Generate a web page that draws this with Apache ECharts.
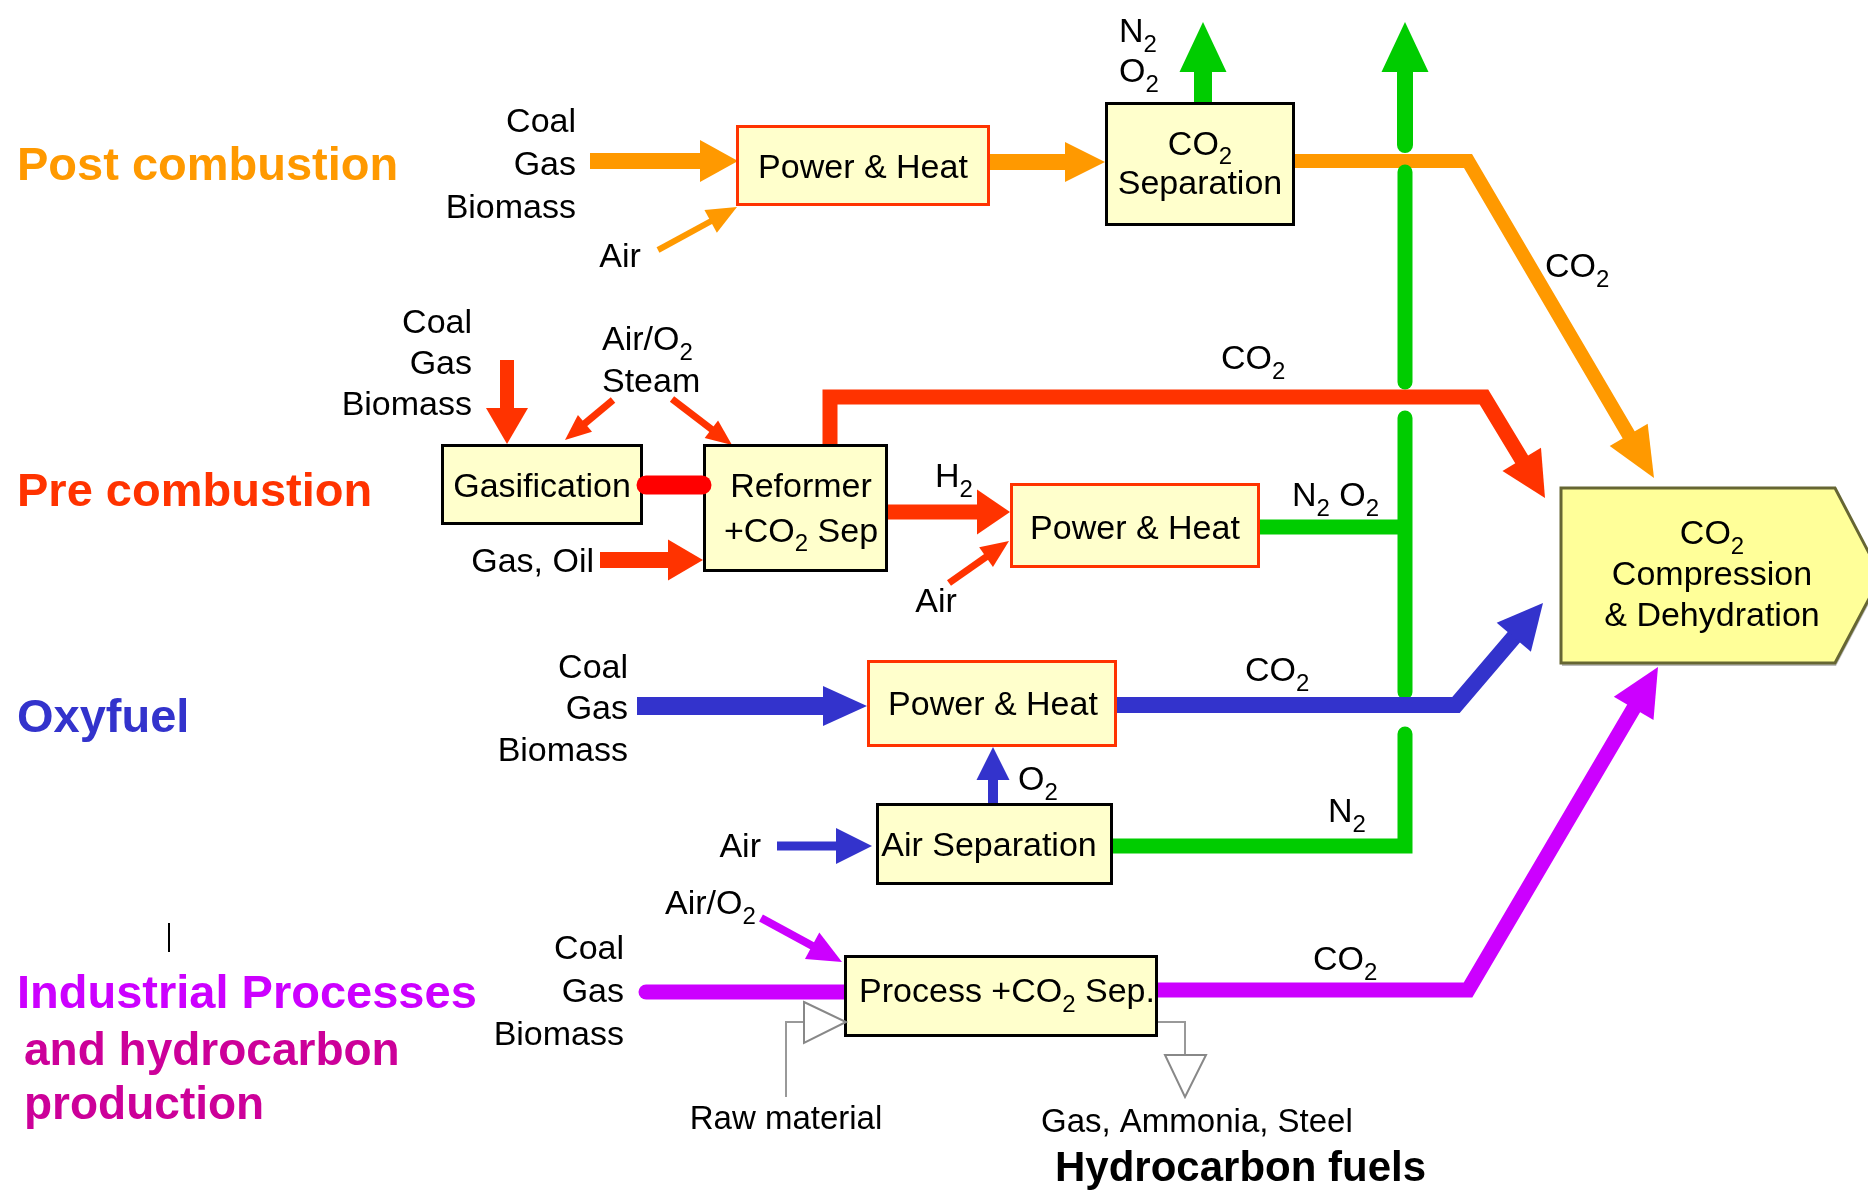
<!DOCTYPE html>
<html><head><meta charset="utf-8">
<style>html,body{margin:0;padding:0;background:#fff;}#main{width:1868px;height:1191px;}</style>
<script src="https://cdn.jsdelivr.net/npm/echarts@6/dist/echarts.min.js"></script>
</head><body><div id="main"></div>
<script>
// ---------- colours ----------
const C = {orange:'#FF9900', red:'#FF3300', pure:'#FF0000', blue:'#3333CC', green:'#00CC00',
  purple:'#CC00FF', pink:'#CC0099', gray:'#999999', black:'#000000'};

// ---------- process units: [x1, y1, x2, y2] in diagram units ----------
const boxRects = [
  [736,125,990,206],    // Power & Heat (post)
  [1105,102,1295,226],  // CO2 Separation
  [441,444,643,525],    // Gasification
  [703,444,888,572],    // Reformer
  [1010,483,1260,568],  // Power & Heat (pre)
  [867,660,1117,747],   // Power & Heat (oxy)
  [876,803,1113,885],   // Air Separation
  [844,955,1158,1037]   // Process + CO2 Sep.
];
const boxEdge = ['red','black','black','black','red','red','black','black'];
const compressionOutline = [[1561,488],[1835,488],[1881,576],[1835,663],[1561,663]];

// ---------- flows: polyline points ----------
const flowPaths = [
  [[590,161],[738,161]],
  [[658,250],[737,207]],
  [[990,162],[1105,162]],
  [[1295,161],[1468,161],[1654,478]],
  [[1203,102],[1203,22]],
  [[507,360],[507,444]],
  [[613,400],[565,440]],
  [[672,399],[732,445]],
  [[600,560],[703,560]],
  [[830,444],[830,397],[1484,397],[1545,498]],
  [[888,512],[1010,512]],
  [[949,583],[1009,541]],
  [[1260,527],[1405,527]],
  [[1113,846],[1405,846],[1405,734]],
  [[1405,692],[1405,418]],
  [[1405,382],[1405,172]],
  [[1405,145],[1405,22]],
  [[637,706],[867,706]],
  [[1117,705],[1456,705],[1543,603]],
  [[993,803],[993,747]],
  [[777,846],[872,846]],
  [[646,992],[844,992]],
  [[1158,990],[1468,990],[1658,667]],
  [[761,918],[842,962]],
  [[169,923],[169,952]],
  [[786,1097],[786,1022],[806,1022]],
  [[1158,1022],[1185,1022],[1185,1055]]
];
// [colour, line width, head length, head width, cap]
const flowStyles = [
  ['orange',16,38,42,'butt'],
  ['orange',6,30,26,'butt'],
  ['orange',16,40,40,'butt'],
  ['orange',14,50,44,'butt'],
  ['green',18,50,47,'butt'],
  ['red',14,36,42,'butt'],
  ['red',7,26,22,'butt'],
  ['red',7,26,22,'butt'],
  ['red',16,35,41,'butt'],
  ['red',15,45,45,'butt'],
  ['red',15,33,45,'butt'],
  ['red',7,28,24,'butt'],
  ['green',15,0,0,'butt'],
  ['green',15,0,0,'round'],
  ['green',15,0,0,'round'],
  ['green',15,0,0,'round'],
  ['green',16,50,47,'round'],
  ['blue',18,44,40,'butt'],
  ['blue',16,45,45,'butt'],
  ['blue',10,33,33,'butt'],
  ['blue',9,36,36,'butt'],
  ['purple',15,0,0,'round'],
  ['purple',15,48,46,'butt'],
  ['purple',8,34,30,'butt'],
  ['black',2,0,0,'butt'],
  ['gray',2,0,0,'butt'],
  ['gray',2,0,0,'butt']
];
// syngas link between Gasification and Reformer
const linkBar = [[646,485],[702,485]];
// open (hollow) arrow heads for material streams
const openHeads = [
  [[804,1002],[846,1022],[804,1043]],
  [[1165,1055],[1206,1055],[1185,1097]]
];

// ---------- texts ----------
const labelTexts = [
  'Post combustion','Pre combustion','Oxyfuel','Industrial Processes','and hydrocarbon','production','Hydrocarbon fuels',
  'Coal\nGas\nBiomass','Air','Power & Heat','CO_2\nSeparation','N_2','O_2','CO_2',
  'Coal\nGas\nBiomass','Air/O_2\nSteam','Gasification','Reformer\n+CO_2 Sep','Gas, Oil','CO_2','H_2','Air','Power & Heat','N_2 O_2',
  'Coal\nGas\nBiomass','Power & Heat','CO_2','O_2','Air','Air Separation','N_2',
  'Air/O_2','Coal\nGas\nBiomass','Process +CO_2 Sep.','CO_2','Raw material','Gas, Ammonia, Steel',
  'CO_2\nCompression\n& Dehydration'
];
const labelAnchors = [
  [17,164],[17,490],[17,716],[17,992],[24,1049],[24,1103],[1055,1166],
  [576,163],[620,255],[863,166],[1200,162],[1119,30],[1119,70],[1545,265],
  [472,362],[602,359],[542,485],[801,507],[594,560],[1221,357],[935,475],[936,600],[1135,527],[1292,494],
  [628,707],[993,703],[1245,669],[1018,778],[761,845],[989,844],[1328,810],
  [665,902],[624,990],[1007,990],[1313,958],[786,1117],[1041,1120],
  [1712,573]
];
// [align, font size, line height, colour, bold]
const labelStyles = [
  ['left',47,56,'orange',1],['left',47,56,'red',1],['left',47,56,'blue',1],['left',47,56,'purple',1],['left',46,55,'pink',1],['left',46,55,'pink',1],['left',42,50,'black',1],
  ['right',34,43,'black',0],['center',34,41,'black',0],['center',34,41,'black',0],['center',34,39,'black',0],['left',34,41,'black',0],['left',34,41,'black',0],['left',34,41,'black',0],
  ['right',34,41,'black',0],['left',34,42,'black',0],['center',34,41,'black',0],['center',34,45,'black',0],['right',34,41,'black',0],['left',34,41,'black',0],['left',34,41,'black',0],['center',34,41,'black',0],['center',34,41,'black',0],['left',34,41,'black',0],
  ['right',34,41.5,'black',0],['center',34,41,'black',0],['left',34,41,'black',0],['left',34,41,'black',0],['right',34,41,'black',0],['center',34,41,'black',0],['left',34,41,'black',0],
  ['left',34,41,'black',0],['right',34,43,'black',0],['center',34,41,'black',0],['left',34,41,'black',0],['center',33,40,'black',0],['left',33,40,'black',0],
  ['center',34,41,'black',0]
];

const FAM = '"Liberation Sans", Arial, Helvetica, sans-serif';
const TEXT_SHIFT = 3; // font-metric correction: canvas 'middle' sits above cap centre
function rt(s){
  return s.split('\n').map(function(line){
    return line.split(/_(\d)/).map(function(seg,k){
      if(seg==='') return '';
      return k%2 ? '{s|'+seg+'}' : '{n|'+seg+'}';
    }).join('');
  }).join('\n');
}
function richFor(F,L,col,bold){
  const wt = bold ? 'bold ' : '';
  const fs = Math.round(F*0.72);
  const P = L/2 + 0.36*F - fs/2;
  return {
    n:{font: wt+F+'px '+FAM, fill: col, lineHeight: L},
    s:{font: wt+fs+'px '+FAM, fill: col, lineHeight: L, verticalAlign:'top', height: fs, padding:[P,0,0,0]}
  };
}

function renderFlow(params, api){
  const i = params.dataIndex;
  const pts = flowPaths[i].map(function(p){return api.coord(p);});
  const st = flowStyles[i];
  const col = C[st[0]], w = st[1], hl = st[2], hw = st[3];
  const children = [];
  const shaft = pts.slice();
  if(hl>0){
    const n = pts.length, tip = pts[n-1], prev = pts[n-2];
    let dx = tip[0]-prev[0], dy = tip[1]-prev[1];
    const len = Math.hypot(dx,dy); dx/=len; dy/=len;
    const bx = tip[0]-dx*hl, by = tip[1]-dy*hl;
    shaft[n-1] = [bx+dx, by+dy];
    children.push({type:'polygon', shape:{points:[tip,[bx-dy*hw/2, by+dx*hw/2],[bx+dy*hw/2, by-dx*hw/2]]}, style:{fill:col}});
  }
  children.unshift({type:'polyline', shape:{points:shaft}, style:{stroke:col, lineWidth:w, fill:'none', lineCap:st[4], lineJoin:'miter'}});
  return {type:'group', children: children};
}
function renderBox(params, api){
  const i = params.dataIndex;
  if(i < boxRects.length){
    const r = boxRects[i];
    const a = api.coord([r[0],r[1]]), b = api.coord([r[2],r[3]]);
    return {type:'rect', shape:{x:a[0]+1.5, y:a[1]+1.5, width:b[0]-a[0]-3, height:b[1]-a[1]-3},
      style:{fill:'#FFFFCC', stroke: boxEdge[i]==='red' ? C.red : '#000', lineWidth:3}};
  }
  const pts = compressionOutline.map(function(p){return api.coord(p);});
  return {type:'group', children:[
    {type:'polygon', shape:{points: pts.map(function(p){return [p[0]+1,p[1]+3];})}, style:{fill:'#BBBBBB'}},
    {type:'polygon', shape:{points: pts}, style:{fill:'#FFFF99', stroke:'#666633', lineWidth:3}}
  ]};
}
function renderTop(params, api){
  const i = params.dataIndex;
  if(i===0){
    const a = api.coord(linkBar[0]), b = api.coord(linkBar[1]);
    return {type:'line', shape:{x1:a[0],y1:a[1],x2:b[0],y2:b[1]}, style:{stroke:C.pure, lineWidth:19, lineCap:'round'}};
  }
  const pts = openHeads[i-1].map(function(p){return api.coord(p);});
  return {type:'polygon', shape:{points:pts}, style:{fill:'#FFFFFF', stroke:'#888888', lineWidth:2}};
}
function renderLabel(params, api){
  const i = params.dataIndex;
  const p = api.coord(labelAnchors[i]);
  const st = labelStyles[i];
  const col = C[st[3]];
  return {type:'text', x:p[0], y:p[1] + TEXT_SHIFT, style:{
    text: rt(labelTexts[i]), rich: richFor(st[1], st[2], col, st[4]),
    font: (st[4]?'bold ':'')+st[1]+'px '+FAM, fill: col,
    align: st[0], verticalAlign:'middle'
  }};
}

const chart = echarts.init(document.getElementById('main'), null, {renderer:'canvas'});
chart.setOption({
  animation:false,
  backgroundColor:'#ffffff',
  grid:{left:0,right:0,top:0,bottom:0},
  xAxis:{type:'value',min:0,max:1868,show:false},
  yAxis:{type:'value',min:0,max:1191,inverse:true,show:false},
  series:[
    {type:'custom', name:'flows', z:1, silent:true, renderItem:renderFlow, data: flowPaths.map(function(f){return f[0];})},
    {type:'custom', name:'units', z:2, silent:true, renderItem:renderBox, data: boxRects.map(function(r){return [r[0],r[1]];}).concat([compressionOutline[0]])},
    {type:'custom', name:'links', z:3, silent:true, renderItem:renderTop, data: [linkBar[0]].concat(openHeads.map(function(h){return h[0];}))},
    {type:'custom', name:'labels', z:4, silent:true, renderItem:renderLabel, data: labelAnchors}
  ]
});
</script></body></html>
